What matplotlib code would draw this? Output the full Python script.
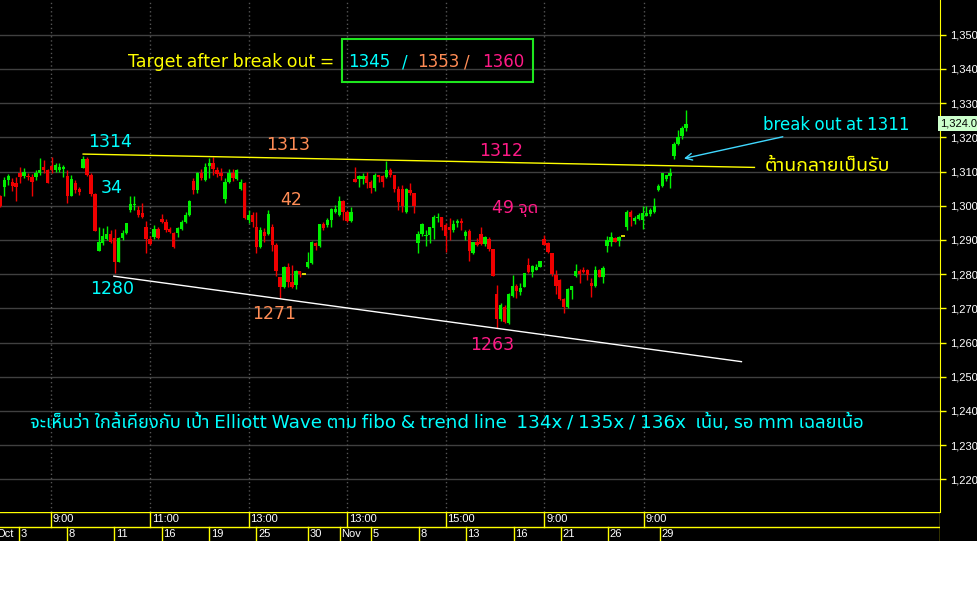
import numpy as np
import matplotlib
matplotlib.use('Agg')
import matplotlib.pyplot as plt
from matplotlib.patches import Rectangle

# candle data (price per bar)
opens = [1302.7, 1305.4, 1307.5, 1307.0, 1306.7, 1309.5, 1308.7, 1308.7, 1308.5, 1308.5,
         1309.5, 1311.2, 1310.3, 1311.6, 1310.4, 1310.3, 1310.6, 1308.7, 1302.8, 1306.5,
         1304.8, 1310.9, 1313.6, 1309.0, 1303.4, 1286.9, 1289.2, 1290.2, 1291.7, 1290.5,
         1283.6, 1290.5, 1291.9, 1298.6, 1300.1, 1298.6, 1298.0, 1293.7, 1290.2, 1290.8,
         1293.1, 1296.0, 1295.3, 1293.1, 1291.9, 1292.1, 1293.1, 1295.3, 1297.3, 1307.3,
         1304.6, 1309.5, 1307.5, 1311.6, 1312.6, 1310.4, 1309.7, 1301.9, 1307.0, 1309.7,
         1307.7, 1304.8, 1306.7, 1295.8, 1297.3, 1293.9, 1287.8, 1292.4, 1291.7, 1293.7,
         1288.5, 1279.3, 1276.1, 1282.0, 1277.8, 1276.8, 1281.0, 1280.0, 1282.0, 1283.2,
         1289.2, 1288.2, 1294.7, 1294.4, 1295.8, 1298.3, 1297.3, 1301.5, 1298.3, 1295.6,
         1307.7, 1307.7, 1307.7, 1308.7, 1307.0, 1305.1, 1309.0, 1308.7, 1308.3, 1310.3,
         1309.0, 1304.8, 1304.8, 1298.3, 1304.6, 1303.6, 1289.0, 1291.7, 1291.2, 1291.4,
         1293.4, 1296.3, 1296.6, 1294.4, 1293.9, 1292.9, 1294.9, 1295.6, 1291.2, 1292.7,
         1286.1, 1289.5, 1291.7, 1288.8, 1290.2, 1287.3, 1274.2, 1266.8, 1270.5, 1265.6,
         1273.6, 1276.5, 1274.9, 1276.3, 1282.7, 1280.7, 1281.2, 1282.2, 1290.2, 1289.0,
         1286.1, 1279.7, 1278.3, 1272.6, 1270.3, 1275.4, 1279.5, 1281.0, 1281.2, 1281.2,
         1277.5, 1276.5, 1281.2, 1279.3, 1288.2, 1289.5, 1290.5, 1289.8, 1291.2, 1293.9,
         1298.3, 1295.4, 1296.1, 1295.7, 1297.1, 1297.6, 1298.3, 1304.5, 1305.8, 1307.8,
         1308.8, 1314.6, 1318.1, 1320.3, 1322.7]
highs = [1303.1, 1308.5, 1309.3, 1308.0, 1308.5, 1311.2, 1310.9, 1309.5, 1309.3, 1310.4,
         1313.9, 1313.4, 1310.6, 1314.2, 1312.6, 1312.4, 1311.9, 1310.3, 1309.0, 1307.5,
         1305.6, 1314.5, 1314.2, 1309.5, 1303.8, 1293.9, 1293.4, 1294.1, 1292.9, 1293.1,
         1290.8, 1292.9, 1295.0, 1302.7, 1302.7, 1299.9, 1300.7, 1295.6, 1291.0, 1294.4,
         1293.9, 1297.6, 1296.0, 1293.9, 1292.4, 1293.9, 1295.8, 1298.3, 1301.7, 1308.0,
         1310.0, 1310.6, 1312.4, 1313.9, 1314.3, 1311.2, 1310.9, 1308.0, 1310.6, 1310.6,
         1310.6, 1307.7, 1307.0, 1298.8, 1298.3, 1298.3, 1293.9, 1293.4, 1298.8, 1294.7,
         1289.0, 1279.3, 1282.4, 1283.2, 1282.7, 1281.2, 1281.0, 1280.0, 1286.6, 1289.8,
         1289.5, 1294.7, 1295.3, 1296.3, 1299.2, 1300.2, 1302.8, 1301.7, 1298.8, 1299.5,
         1311.4, 1309.0, 1309.5, 1310.0, 1307.5, 1309.7, 1309.0, 1309.0, 1313.2, 1310.9,
         1309.0, 1305.8, 1306.1, 1305.1, 1306.5, 1303.8, 1292.7, 1294.9, 1292.9, 1293.9,
         1297.3, 1297.8, 1296.6, 1295.0, 1296.3, 1295.8, 1296.0, 1296.3, 1292.9, 1293.1,
         1289.5, 1290.5, 1293.9, 1291.2, 1290.8, 1287.3, 1276.8, 1271.5, 1271.0, 1274.6,
         1279.7, 1277.1, 1277.3, 1280.4, 1284.6, 1282.7, 1283.0, 1283.8, 1291.4, 1289.5,
         1286.1, 1281.2, 1278.5, 1272.9, 1275.8, 1276.5, 1283.0, 1281.4, 1282.0, 1281.4,
         1278.8, 1282.4, 1281.4, 1282.4, 1291.0, 1292.4, 1290.8, 1291.2, 1291.2, 1298.8,
         1298.6, 1296.9, 1297.8, 1299.8, 1300.0, 1299.2, 1302.3, 1306.4, 1309.7, 1309.1,
         1311.0, 1318.5, 1322.2, 1323.2, 1328.1]
lows = [1299.5, 1302.8, 1306.1, 1304.4, 1301.5, 1306.5, 1308.0, 1307.5, 1302.7, 1307.5,
        1309.0, 1309.5, 1306.5, 1309.5, 1310.0, 1310.0, 1308.5, 1300.9, 1302.7, 1303.6,
        1303.1, 1310.9, 1308.7, 1302.7, 1292.7, 1286.9, 1288.5, 1290.0, 1289.2, 1280.4,
        1283.6, 1290.0, 1291.7, 1298.3, 1298.8, 1296.8, 1296.3, 1286.3, 1288.5, 1290.2,
        1290.2, 1294.9, 1292.4, 1291.9, 1287.5, 1290.8, 1292.9, 1295.0, 1297.0, 1303.4,
        1303.8, 1307.5, 1307.3, 1308.0, 1309.0, 1308.5, 1307.5, 1300.9, 1306.5, 1307.3,
        1307.5, 1304.6, 1296.0, 1295.0, 1293.9, 1286.3, 1287.5, 1289.5, 1291.4, 1286.9,
        1279.5, 1272.9, 1275.8, 1276.3, 1275.8, 1275.6, 1279.3, 1280.0, 1281.7, 1283.0,
        1287.1, 1288.0, 1292.9, 1293.9, 1293.9, 1297.8, 1297.0, 1295.8, 1295.3, 1295.3,
        1307.0, 1305.6, 1306.4, 1305.1, 1303.8, 1304.4, 1307.0, 1305.6, 1308.0, 1308.5,
        1304.1, 1298.8, 1298.3, 1298.0, 1303.1, 1298.0, 1286.3, 1291.0, 1288.2, 1289.2,
        1290.2, 1295.3, 1292.9, 1286.6, 1290.0, 1292.4, 1293.9, 1292.9, 1290.0, 1283.9,
        1285.9, 1288.2, 1288.5, 1288.2, 1286.9, 1279.5, 1264.2, 1266.4, 1265.8, 1265.4,
        1273.4, 1272.9, 1273.9, 1276.1, 1280.4, 1279.1, 1281.2, 1282.0, 1288.5, 1286.1,
        1279.5, 1274.2, 1272.4, 1268.7, 1270.0, 1272.6, 1279.3, 1277.5, 1280.2, 1278.3,
        1273.4, 1276.3, 1279.1, 1277.5, 1286.6, 1288.2, 1289.5, 1288.2, 1291.2, 1292.8,
        1294.1, 1294.7, 1295.9, 1293.2, 1296.9, 1296.9, 1298.0, 1304.2, 1305.4, 1307.1,
        1305.1, 1313.6, 1317.8, 1319.5, 1321.7]
closes = [1299.9, 1307.5, 1308.7, 1305.8, 1305.4, 1308.5, 1310.0, 1308.3, 1307.0, 1309.7,
          1310.4, 1310.3, 1306.7, 1310.3, 1311.9, 1311.4, 1311.4, 1302.7, 1307.7, 1304.6,
          1304.1, 1313.6, 1309.0, 1303.4, 1292.7, 1289.5, 1291.0, 1291.7, 1289.5, 1283.6,
          1290.5, 1292.1, 1295.0, 1300.5, 1300.5, 1297.3, 1296.6, 1290.2, 1288.8, 1293.1,
          1290.5, 1295.3, 1292.9, 1292.4, 1287.8, 1293.4, 1295.3, 1297.3, 1301.5, 1304.6,
          1309.5, 1308.0, 1311.4, 1312.6, 1310.6, 1309.3, 1308.7, 1307.0, 1309.7, 1308.0,
          1310.4, 1307.0, 1296.3, 1297.3, 1295.3, 1288.0, 1292.9, 1291.0, 1297.6, 1288.5,
          1281.0, 1276.1, 1282.2, 1277.8, 1276.3, 1281.0, 1280.0, 1280.0, 1283.4, 1289.5,
          1288.2, 1294.7, 1293.4, 1295.8, 1298.9, 1298.9, 1301.5, 1298.3, 1295.6, 1298.3,
          1307.0, 1308.7, 1308.7, 1306.7, 1305.1, 1309.0, 1308.3, 1307.0, 1310.3, 1309.0,
          1304.8, 1301.2, 1299.9, 1304.8, 1303.6, 1299.9, 1291.7, 1294.7, 1291.4, 1293.9,
          1296.8, 1296.8, 1293.9, 1291.0, 1292.9, 1294.7, 1295.6, 1294.9, 1292.4, 1286.9,
          1289.5, 1288.5, 1288.8, 1290.8, 1287.3, 1279.5, 1266.8, 1271.0, 1266.1, 1274.2,
          1276.5, 1275.2, 1275.8, 1280.2, 1280.7, 1282.4, 1282.0, 1283.8, 1288.5, 1286.6,
          1280.0, 1276.5, 1272.6, 1270.3, 1275.6, 1276.5, 1281.0, 1280.0, 1280.7, 1279.7,
          1276.5, 1281.2, 1279.3, 1281.7, 1290.0, 1290.8, 1289.5, 1290.8, 1291.2, 1298.3,
          1296.7, 1296.4, 1297.3, 1297.8, 1298.0, 1298.6, 1300.0, 1305.8, 1309.5, 1309.0,
          1309.7, 1318.1, 1320.1, 1322.7, 1324.0]

# time axis labels (bar position where each label starts)
session_pos = [12.9, 38.0, 63.1, 88.0, 113.1, 138.1, 163.3]
session_lbl = ['9:00', '11:00', '13:00', '13:00', '15:00', '9:00', '9:00']
day_pos = [-1.5, 4.6, 16.9, 28.9, 41.0, 53.0, 65.0, 78.0, 86.2, 94.0,
           106.2, 118.1, 130.3, 142.2, 154.2, 167.4]
day_lbl = ['Oct', '3', '8', '11', '16', '19', '25', '30', 'Nov', '5',
           '8', '13', '16', '21', '26', '29']

# trend lines (bar, price)
resist_x = [21, 191.4]
resist_y = [1315.1, 1311.2]
support_x = [28.8, 188.1]
support_y = [1279.4, 1254.4]
last_price = 1324.0

THAI = ['Noto Sans Thai UI', 'DejaVu Sans']
AXF = 'Liberation Sans'
CYAN = '#00ffff'
ORANGE = '#ff8c55'
PINK = '#ff1a86'
YEL = '#ffff00'
GREEN = '#00f000'
RED = '#f00000'

W, H = 977, 609
fig = plt.figure(figsize=(W / 100, H / 100), dpi=100, facecolor='white')
fig.patches.append(Rectangle((0, 68 / H), 1, 1 - 68 / H, transform=fig.transFigure,
                             facecolor='black', edgecolor='none', zorder=-5))

ax = fig.add_axes([0, 1 - 512 / H, 940 / W, 512 / H], facecolor='black')
x = np.arange(len(opens))
o = np.array(opens); c = np.array(closes)
hi = np.array(highs); lo = np.array(lows)
col = np.where(c > o, GREEN, np.where(c < o, RED, YEL))

ax.vlines(x, lo, hi, colors=col, linewidth=1, zorder=3)
body = np.abs(c - o)
ax.bar(x, body, bottom=np.minimum(o, c), width=0.85, color=col, linewidth=0, zorder=4)
doji = body == 0
ax.hlines(o[doji], x[doji] - 0.45, x[doji] + 0.45, colors=YEL, linewidth=1.2, zorder=4)

ax.plot(resist_x, resist_y, color=YEL, lw=1, zorder=5)
ax.plot(support_x, support_y, color='white', lw=1, zorder=5)

ax.set_xlim(-0.1, 238.5)
ax.set_ylim(1210.44, 1360.15)
ax.set_yticks(np.arange(1220, 1351, 10))
ax.set_yticklabels([f'{v:,}' for v in range(1220, 1351, 10)])
ax.yaxis.tick_right()
ax.tick_params(axis='y', colors=YEL, length=4, width=1, pad=3, labelcolor='white',
               labelsize=8)
for lab in ax.get_yticklabels():
    lab.set_family(AXF)
ax.set_xticks([])
for s in ['top', 'left', 'bottom']:
    ax.spines[s].set_visible(False)
ax.spines['right'].set_color(YEL)
for v in range(1220, 1351, 10):
    ax.axhline(v, color='#404040', lw=1, zorder=1)
for p in session_pos:
    ax.axvline(p, color='#555555', lw=1, ls=(0, (1, 2)), zorder=1)

# last price tag
ax.text(1.0, last_price, f'{last_price:,.1f}', transform=ax.get_yaxis_transform(),
        ha='left', va='center', fontsize=8, family=AXF, color='black',
        clip_on=False, zorder=10,
        bbox=dict(boxstyle='square,pad=0.2', fc='#ccffcc', ec='none'))

# annotations
big = 12.5
kw = dict(fontsize=big, family=THAI, ha='center', va='center')
ax.text(27.8, 1318.6, '1314', color=CYAN, **kw)
ax.text(28.3, 1305.2, '34', color=CYAN, **kw)
ax.text(28.3, 1275.6, '1280', color=CYAN, **kw)
ax.text(73.0, 1317.7, '1313', color=ORANGE, **kw)
ax.text(73.9, 1301.7, '42', color=ORANGE, **kw)
ax.text(69.6, 1268.3, '1271', color=ORANGE, **kw)
ax.text(127.1, 1316.0, '1312', color=PINK, **kw)
ax.text(130.7, 1299.3, '49 จุด', color=PINK, **kw)
ax.text(124.8, 1259.3, '1263', color=PINK, **kw)

lk = dict(family=THAI, ha='left', va='center')
ax.text(32.4, 1342.0, 'Target after break out = ', color=YEL, fontsize=big, **lk)
ax.add_patch(Rectangle((86.6, 1336.1), 48.7, 12.6, fill=False, ec='#1ee61e', lw=1.5, zorder=6))
ax.text(88.3, 1342.0, '1345', color=CYAN, fontsize=12, **lk)
ax.text(101.9, 1342.0, '/', color=CYAN, fontsize=12, **lk)
ax.text(105.7, 1342.0, '1353', color=ORANGE, fontsize=12, **lk)
ax.text(117.8, 1342.0, '/', color=ORANGE, fontsize=12, **lk)
ax.text(122.2, 1342.0, '1360', color=PINK, fontsize=12, **lk)

ax.annotate('break out at 1311', xy=(173.5, 1313.8), xytext=(193.6, 1323.6),
            color=CYAN, fontsize=12,
            arrowprops=dict(arrowstyle='->', color='#40d8ff', lw=1, shrinkA=0, shrinkB=0),
            **lk)
ax.text(194.1, 1311.9, 'ต้านกลายเป็นรับ', color=YEL, fontsize=14, **lk)
ax.text(7.5, 1236.4, 'จะเห็นว่า ใกล้เคียงกับ เป้า Elliott Wave ตาม fibo & trend line  '
        '134x / 135x / 136x  เน้น, รอ mm เฉลยเน้อ', color=CYAN, fontsize=13.2, **lk)

# time axis
tx = fig.add_axes([0, 68 / H, 940 / W, 29 / H], facecolor='black')
tx.set_xlim(ax.get_xlim())
tx.set_ylim(0, 2)
tx.axis('off')
tx.axhline(2, color=YEL, lw=1)
tx.axhline(1, color=YEL, lw=1)
tx.axvline(ax.get_xlim()[1], color=YEL, lw=1)
for p, l in zip(session_pos, session_lbl):
    tx.plot([p, p], [1, 2], color=YEL, lw=1)
    tx.text(p + 0.4, 1.5, l, color='white', fontsize=8, family=AXF, va='center')
for p, l in zip(day_pos, day_lbl):
    tx.plot([p, p], [0, 1], color=YEL, lw=1)
    tx.text(p + 0.4, 0.5, l, color='white', fontsize=8, family=AXF, va='center',
            clip_on=True)

fig.savefig('out.png', dpi=100, facecolor=fig.get_facecolor())
